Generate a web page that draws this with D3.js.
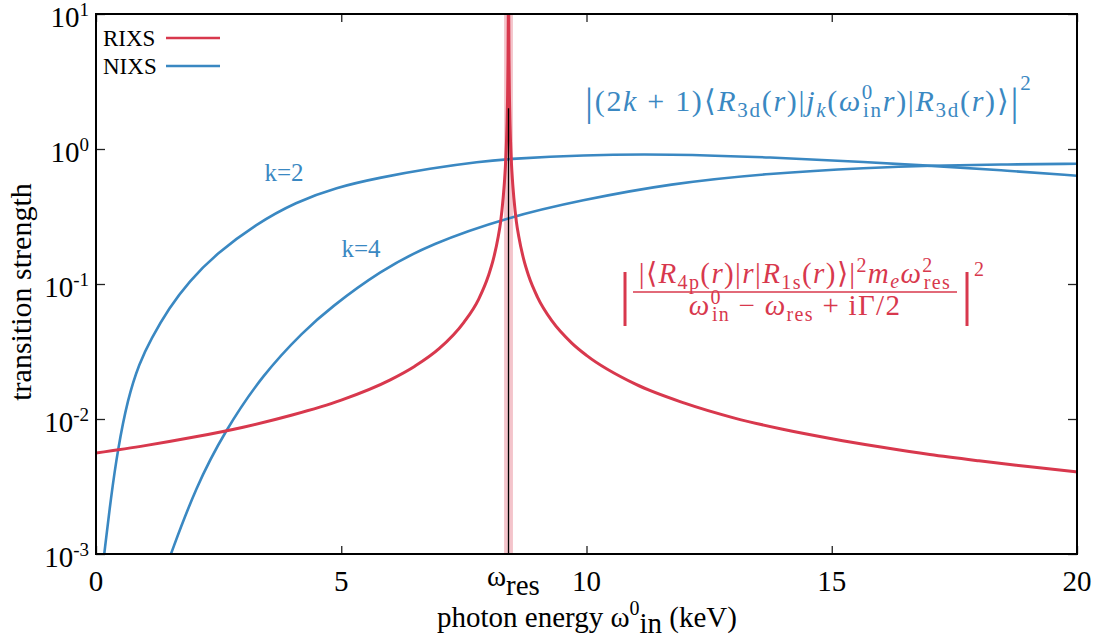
<!DOCTYPE html>
<html>
<head>
<meta charset="utf-8">
<script src="https://cdn.jsdelivr.net/npm/d3@7"></script>
<style>
  body { margin: 0; background: #fff; }
  svg { display: block; }
</style>
</head>
<body>
<script>
// photon energy (keV) and transition strength
const omegaRes = 8.41;
const bandEdges = [8.32, 8.50];

const rixsOmega = [0, 1, 2, 3, 4, 5, 6, 6.5, 7, 7.5, 7.8, 8.0, 8.1, 8.2, 8.25, 8.3, 8.33, 8.35, 8.37, 8.38, 8.39, 8.4, 8.405, 8.41,
  8.415, 8.42, 8.43, 8.44, 8.45, 8.47, 8.49, 8.52, 8.57, 8.62, 8.72, 8.82, 9.0, 9.3, 9.7, 10, 11, 12, 13, 14, 15, 16, 17, 18, 19, 20];
const rixsValue = [5.6e-3, 6.35e-3, 7.35e-3, 8.7e-3, 1.07e-2, 1.38e-2, 1.95e-2, 2.46e-2, 3.33e-2, 5.2e-2, 7.7e-2, 0.115, 0.152, 0.224, 0.29, 0.43, 0.59, 0.78, 1.17, 1.55, 2.3, 4.5, 9, 25,
  9, 4.5, 2.3, 1.55, 1.17, 0.78, 0.59, 0.43, 0.29, 0.224, 0.152, 0.115, 8.0e-2, 5.3e-2, 3.65e-2, 2.96e-2, 1.81e-2, 1.31e-2, 1.02e-2, 8.4e-3, 7.15e-3, 6.2e-3, 5.45e-3, 4.9e-3, 4.45e-3, 4.05e-3];

const k2Omega = [0.13, 0.169, 0.306, 0.442, 0.646, 0.883, 1.121, 1.488, 1.896, 2.446, 3.262, 4.077, 4.893, 5.79, 6.81, 7.83, 8.44, 9.87, 11.7, 13.74, 15.78, 17.0, 18.43, 20];
const k2Value = [7.6e-4, 1.01e-3, 2.64e-3, 5.89e-3, 1.41e-2, 2.60e-2, 3.92e-2, 6.64e-2, 0.1045, 0.1667, 0.278, 0.405, 0.519, 0.615, 0.718, 0.807, 0.845, 0.904, 0.918, 0.869, 0.796, 0.752, 0.698, 0.634];

const k4Omega = [1.4, 1.529, 2.039, 2.616, 3.399, 4.247, 4.771, 5.79, 6.809, 8.44, 9.867, 11.7, 13.74, 15.78, 17.0, 18.43, 20];
const k4Value = [7.4e-4, 1.01e-3, 3.15e-3, 8.02e-3, 2.14e-2, 4.52e-2, 6.64e-2, 0.1247, 0.1977, 0.316, 0.416, 0.555, 0.662, 0.728, 0.755, 0.767, 0.778];

const xTicks = [0, 5, 10, 15, 20];
const yExponents = [-3, -2, -1, 0, 1];

const red = "#d8384d";
const blue = "#3a88c2";
const serif = "'Liberation Serif', 'Times New Roman', serif";

const width = 1102, height = 642;
const plotLeft = 96, plotRight = 1077, plotTop = 14, plotBottom = 554;

const svg = d3.select("body").append("svg")
  .attr("width", width)
  .attr("height", height)
  .attr("font-family", serif);

const x = d3.scaleLinear().domain([0, 20]).range([plotLeft, plotRight]);
const y = d3.scaleLog().domain([1e-3, 1e1]).range([plotBottom, plotTop]);

svg.append("clipPath").attr("id", "plot")
  .append("rect")
  .attr("x", plotLeft).attr("y", plotTop)
  .attr("width", plotRight - plotLeft).attr("height", plotBottom - plotTop);

const g = svg.append("g").attr("clip-path", "url(#plot)");

// resonance band
g.append("rect")
  .attr("x", x(bandEdges[0]))
  .attr("width", x(bandEdges[1]) - x(bandEdges[0]))
  .attr("y", plotTop)
  .attr("height", plotBottom - plotTop)
  .attr("fill", "#f4c4cb");

const curveLine = (gen) => d3.line()
  .x(d => x(d[0]))
  .y(d => y(d[1]))
  .curve(gen);

const curves = [
  { omega: k2Omega, value: k2Value, color: blue, w: 2.6, gen: d3.curveBasis },
  { omega: k4Omega, value: k4Value, color: blue, w: 2.6, gen: d3.curveBasis },
  { omega: rixsOmega, value: rixsValue, color: red, w: 3, gen: d3.curveMonotoneX }
];

g.selectAll("path.curve")
  .data(curves)
  .enter()
  .append("path")
  .attr("class", "curve")
  .attr("fill", "none")
  .attr("stroke", d => d.color)
  .attr("stroke-width", d => d.w)
  .attr("stroke-linejoin", "round")
  .attr("d", d => curveLine(d.gen)(d3.zip(d.omega, d.value)));

// marker of the resonance energy
g.append("line")
  .attr("x1", x(omegaRes)).attr("x2", x(omegaRes))
  .attr("y1", y(1e-3)).attr("y2", y(2))
  .attr("stroke", "#000")
  .attr("stroke-width", 1.3);

// axes, ticks pointing inward
const axisColor = "#222";
const yTickVals = yExponents.map(e => Math.pow(10, e));
const xb = svg.append("g").attr("transform", `translate(0,${plotBottom})`)
  .call(d3.axisBottom(x).tickValues(xTicks).tickSizeInner(-8).tickSizeOuter(0).tickFormat(""));
const xt = svg.append("g").attr("transform", `translate(0,${plotTop})`)
  .call(d3.axisTop(x).tickValues(xTicks).tickSizeInner(-8).tickSizeOuter(0).tickFormat(""));
const yl = svg.append("g").attr("transform", `translate(${plotLeft},0)`)
  .call(d3.axisLeft(y).tickValues(yTickVals).tickSizeInner(-9).tickSizeOuter(0).tickFormat(""));
const yr = svg.append("g").attr("transform", `translate(${plotRight},0)`)
  .call(d3.axisRight(y).tickValues(yTickVals).tickSizeInner(-9).tickSizeOuter(0).tickFormat(""));
[xb, xt, yl, yr].forEach(a => {
  a.select(".domain").remove();
  a.selectAll(".tick line").attr("stroke", axisColor).attr("stroke-width", 1.3);
});

svg.append("rect")
  .attr("x", plotLeft).attr("y", plotTop)
  .attr("width", plotRight - plotLeft).attr("height", plotBottom - plotTop)
  .attr("fill", "none")
  .attr("stroke", "#000")
  .attr("stroke-width", 2);

// x tick labels
svg.selectAll("text.xt")
  .data(xTicks)
  .enter()
  .append("text")
  .attr("class", "xt")
  .attr("x", d => x(d))
  .attr("y", 591)
  .attr("text-anchor", "middle")
  .attr("font-size", 29)
  .text(d => d);

const wr = svg.append("text")
  .attr("x", 487)
  .attr("y", 586)
  .attr("font-size", 29);
wr.append("tspan").text("ω");
wr.append("tspan").attr("dy", 9).text("res");

// y tick labels
yExponents.forEach(e => {
  const t = svg.append("text")
    .attr("x", 89)
    .attr("y", y(Math.pow(10, e)) + 13)
    .attr("text-anchor", "end")
    .attr("font-size", 29);
  t.append("tspan").text("10");
  t.append("tspan").attr("dy", -11).attr("font-size", 19).text(e < 0 ? "-" + (-e) : e);
});

// axis titles
const xl = svg.append("text")
  .attr("x", 587)
  .attr("y", 627)
  .attr("text-anchor", "middle")
  .attr("font-size", 29);
xl.append("tspan").text("photon energy ω");
xl.append("tspan").attr("dy", -12).attr("font-size", 20).text("0");
xl.append("tspan").attr("dy", 18).text("in");
xl.append("tspan").attr("dy", -6).text(" (keV)");

svg.append("text")
  .attr("transform", "translate(31,292) rotate(-90)")
  .attr("text-anchor", "middle")
  .attr("font-size", 30)
  .text("transition strength");

// legend
const legend = [{ name: "RIXS", color: red, yy: 38 }, { name: "NIXS", color: blue, yy: 66 }];
legend.forEach(l => {
  svg.append("text").attr("x", 103).attr("y", l.yy + 8).attr("font-size", 23).text(l.name);
  svg.append("line").attr("x1", 166).attr("x2", 220).attr("y1", l.yy).attr("y2", l.yy)
    .attr("stroke", l.color).attr("stroke-width", 2.6);
});

// curve labels
svg.append("text").attr("x", 284).attr("y", 181).attr("text-anchor", "middle")
  .attr("font-size", 25).attr("fill", blue).text("k=2");
svg.append("text").attr("x", 361).attr("y", 257).attr("text-anchor", "middle")
  .attr("font-size", 25).attr("fill", blue).text("k=4");

// NIXS formula
const it = (t, s) => t.append("tspan").attr("font-style", "italic").text(s);
const f1 = svg.append("text").attr("x", 585).attr("y", 111).attr("font-size", 30)
  .attr("letter-spacing", 1.7).attr("fill", blue);
f1.append("tspan").attr("font-size", 40).attr("dy", 4).text("|");
f1.append("tspan").attr("dy", -4).text("(2");
it(f1, "k");
f1.append("tspan").text(" + 1)⟨");
it(f1, "R");
f1.append("tspan").attr("dy", 6).attr("font-size", 21).text("3d");
f1.append("tspan").attr("dy", -6).text("(");
it(f1, "r");
f1.append("tspan").text(")|");
it(f1, "j");
f1.append("tspan").attr("dy", 6).attr("font-size", 21).attr("font-style", "italic").text("k");
f1.append("tspan").attr("dy", -6).text("(");
it(f1, "ω");
f1.append("tspan").attr("dy", -12).attr("font-size", 21).text("0");
f1.append("tspan").attr("dx", -11).attr("dy", 18).attr("font-size", 21).text("in");
f1.append("tspan").attr("dy", -6).attr("font-style", "italic").text("r");
f1.append("tspan").text(")|");
it(f1, "R");
f1.append("tspan").attr("dy", 6).attr("font-size", 21).text("3d");
f1.append("tspan").attr("dy", -6).text("(");
it(f1, "r");
f1.append("tspan").text(")⟩");
f1.append("tspan").attr("font-size", 40).attr("dy", 4).text("|");
f1.append("tspan").attr("font-size", 21).attr("dy", -25).text("2");

// RIXS formula
const numX = 795;
const num = svg.append("text").attr("x", numX).attr("y", 283).attr("text-anchor", "middle")
  .attr("font-size", 29).attr("letter-spacing", 1.4).attr("fill", red);
num.append("tspan").text("|⟨");
it(num, "R");
num.append("tspan").attr("dy", 6).attr("font-size", 20).text("4p");
num.append("tspan").attr("dy", -6).text("(");
it(num, "r");
num.append("tspan").text(")|");
it(num, "r");
num.append("tspan").text("|");
it(num, "R");
num.append("tspan").attr("dy", 6).attr("font-size", 20).text("1s");
num.append("tspan").attr("dy", -6).text("(");
it(num, "r");
num.append("tspan").text(")⟩|");
num.append("tspan").attr("dy", -11).attr("font-size", 20).text("2");
num.append("tspan").attr("dy", 11).attr("font-style", "italic").text("m");
num.append("tspan").attr("dy", 5).attr("font-size", 20).attr("font-style", "italic").text("e");
num.append("tspan").attr("dy", -5).attr("font-style", "italic").text("ω");
num.append("tspan").attr("dy", -11).attr("font-size", 20).text("2");
num.append("tspan").attr("dx", -10).attr("dy", 17).attr("font-size", 20).text("res");

svg.append("line").attr("x1", 633).attr("x2", 957).attr("y1", 292).attr("y2", 292)
  .attr("stroke", red).attr("stroke-width", 1.6);

const den = svg.append("text").attr("x", numX).attr("y", 315).attr("text-anchor", "middle")
  .attr("font-size", 29).attr("letter-spacing", 1.3).attr("fill", red);
it(den, "ω");
den.append("tspan").attr("dy", -11).attr("font-size", 20).text("0");
den.append("tspan").attr("dx", -10).attr("dy", 17).attr("font-size", 20).text("in");
den.append("tspan").attr("dy", -6).text(" − ");
it(den, "ω");
den.append("tspan").attr("dy", 6).attr("font-size", 20).text("res");
den.append("tspan").attr("dy", -6).text(" + iΓ/2");

svg.append("text").attr("x", 625).attr("y", 313).attr("text-anchor", "middle")
  .attr("font-size", 60).attr("fill", red).text("|");
svg.append("text").attr("x", 967).attr("y", 313).attr("text-anchor", "middle")
  .attr("font-size", 60).attr("fill", red).text("|");
svg.append("text").attr("x", 974).attr("y", 276)
  .attr("font-size", 20).attr("fill", red).text("2");
</script>
</body>
</html>
